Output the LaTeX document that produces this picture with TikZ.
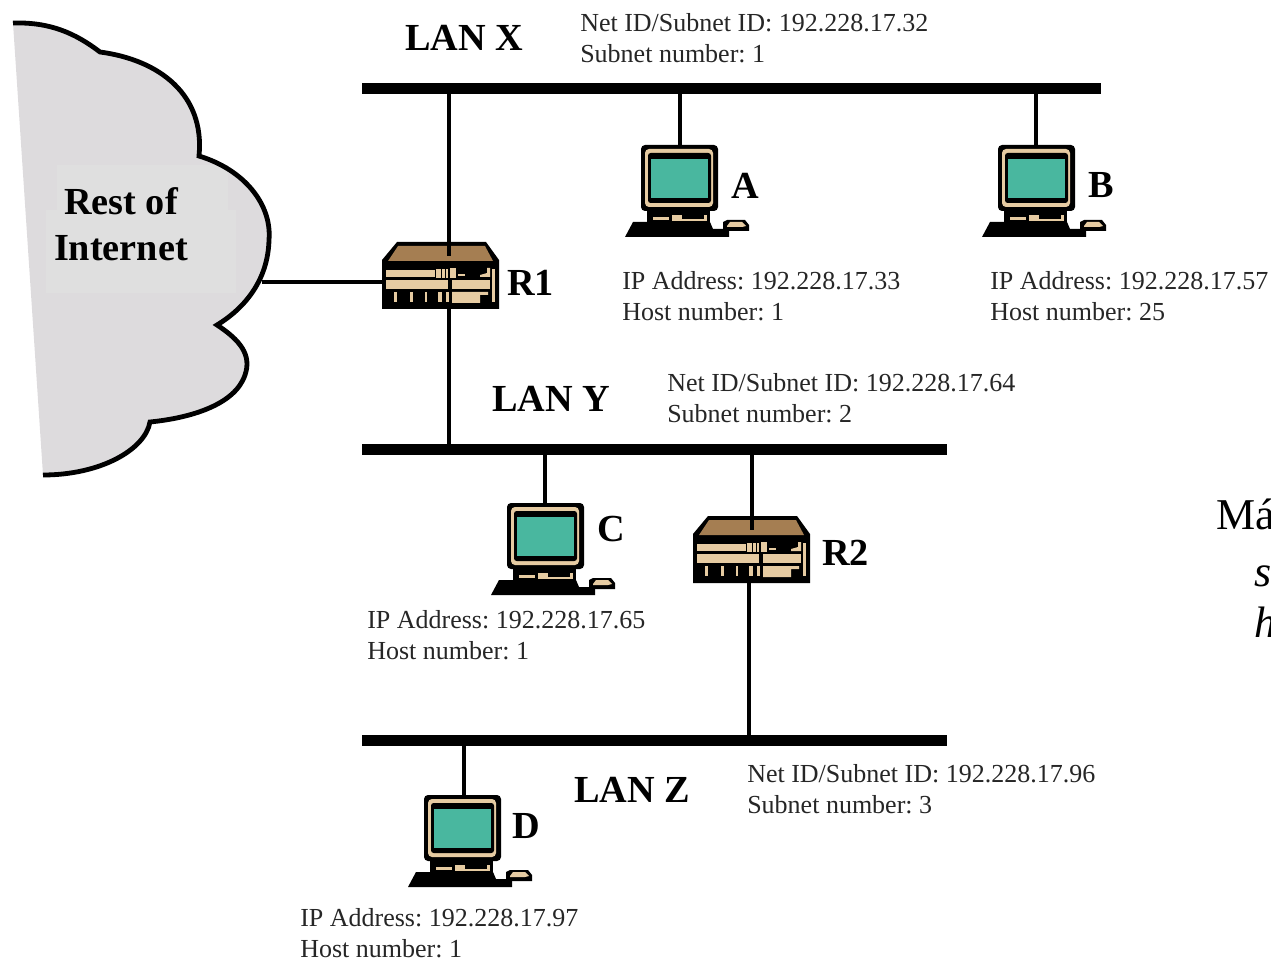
\documentclass[tikz,border=0pt]{standalone}
\usepackage{fontspec}
\setmainfont{Liberation Serif}
\frenchspacing
\definecolor{cloudgrey}{HTML}{DDDBDD}
\definecolor{cloudlight}{HTML}{DFDFDF}
\definecolor{teal1}{HTML}{49B79F}
\definecolor{tan1}{HTML}{E6CBA2}
\definecolor{brown1}{HTML}{A57E52}
\tikzset{
  x=0.75pt,y=-0.75pt,
  bus/.style={fill=black,draw=none,inner sep=0pt,minimum height=8.25pt},
  link/.style={draw=black,line width=2.6pt},
  biglabel/.style={font=\fontsize{28.7}{34}\selectfont\bfseries,anchor=base west,inner sep=0pt},
  info/.style={font=\fontsize{19.5}{23.6}\selectfont,anchor=north west,inner sep=0pt,align=left,text=black!85},
  side/.style={font=\fontsize{33}{40}\selectfont,anchor=base west,inner sep=0pt},
  computer/.pic={
    \fill[black,rounded corners=3pt] (-39,0) rectangle (38,66);
    \fill[tan1,rounded corners=3pt] (-35,4) rectangle (33,62);
    \fill[black,rounded corners=2pt] (-32,8) rectangle (31,58);
    \fill[teal1] (-29,14) rectangle (28,53);
    \fill[black] (-33,64) rectangle (30,80);
    \fill[tan1] (-27,72) rectangle (-11,75);
    \fill[tan1] (-8,70) rectangle (2,76);
    \fill[tan1] (2,74) rectangle (24,76);
    \fill[tan1] (24,70) rectangle (27,76);
    \fill[black] (-55,92) -- (-47,77) -- (30,77) -- (33,84) -- (49,84) -- (49,92) -- cycle;
    \fill[black] (43,77) -- (47,75) -- (65,75) -- (69,80) -- (69,86) -- (43,86) -- cycle;
    \fill[tan1] (47,81) -- (50,77) -- (62,77) -- (66,81) -- (62,82) -- (47,82) -- cycle;
  },
  routerbox/.pic={
    \fill[black] (-52,0) -- (37,0) -- (50,18) -- (50,67) -- (-67,67) -- (-67,18) -- cycle;
    \fill[brown1] (-61,19) -- (-51,4) -- (36,4) -- (44,19) -- cycle;
    \fill[tan1] (-63,28) rectangle (-14,35);
    \fill[tan1] (-13,27) rectangle (-8,36);
    \fill[tan1] (-7,27) rectangle (-4,36);
    \fill[tan1] (-3,27) rectangle (-1,36);
    \fill[tan1] (1,26) rectangle (7,36);
    \fill[tan1] (9,32) rectangle (16,34);
    \fill[tan1] (38,26) -- (41,26) -- (41,35) -- (31,35) -- (31,33) -- (38,31) -- cycle;
    \fill[tan1] (43,27) rectangle (46,60);
    \fill[tan1] (-63,38) rectangle (-1,47);
    \fill[tan1] (3,38) rectangle (41,47);
    \fill[tan1] (-55,50) rectangle (-52,60);
    \fill[tan1] (-39,50) rectangle (-36,60);
    \fill[tan1] (-24,50) rectangle (-22,60);
    \fill[tan1] (-11,50) rectangle (-7,60);
    \fill[tan1] (-3,50) rectangle (0,60);
    \fill[tan1] (3,50) -- (39,50) -- (39,53) -- (31,53) -- (31,61) -- (3,61) -- cycle;
  },
}
\begin{document}
\begin{tikzpicture}
\useasboundingbox (0,0) rectangle (1271,959);
% cloud
\fill[cloudgrey]
  (13,23) .. controls (50,22) and (75,33) .. (100,52)
  .. controls (160,60) and (205,95) .. (199,156)
  .. controls (245,170) and (272,205) .. (269,240)
  .. controls (268,280) and (245,308) .. (217,325)
  .. controls (240,340) and (252,355) .. (245,375)
  .. controls (235,405) and (190,418) .. (150,422)
  .. controls (145,450) and (100,475) .. (43,475) -- cycle;
\fill[cloudlight] (57,165) rectangle (228,210);
\fill[cloudlight] (46,210) rectangle (236,293);
\draw[line width=3.6pt,line join=miter,fill=none]
  (13,23) .. controls (50,22) and (75,33) .. (100,52)
  .. controls (160,60) and (205,95) .. (199,156)
  .. controls (245,170) and (272,205) .. (269,240)
  .. controls (268,280) and (245,308) .. (217,325)
  .. controls (240,340) and (252,355) .. (245,375)
  .. controls (235,405) and (190,418) .. (150,422)
  .. controls (145,450) and (100,475) .. (43,475);
\node[font=\fontsize{28.7}{35}\selectfont\bfseries,align=center,inner sep=0pt,anchor=base] (cloudname) at (121,261) {Rest of\\Internet};
\coordinate (cloudport) at (262,282);
% buses
\node[bus,minimum width=554.25pt] (lanx) at (731.5,88.5) {};
\node[bus,minimum width=438.75pt] (lany) at (654.5,449.5) {};
\node[bus,minimum width=438.75pt] (lanz) at (654.5,740.5) {};
% routers
\coordinate (R1) at (449,242);
\coordinate (R1top) at (449,256);
\coordinate (R1bottom) at (449,309);
\coordinate (R1left) at (382,282);
\coordinate (R2) at (760,516);
\coordinate (R2top) at (752,530);
\coordinate (R2bottom) at (749,583);
\pic at (R1) {routerbox};
\pic at (R2) {routerbox};
% computers
\coordinate (A) at (680,145);
\coordinate (B) at (1037,145);
\coordinate (C) at (546,503);
\coordinate (D) at (463,795);
\pic at (A) {computer};
\pic at (B) {computer};
\pic at (C) {computer};
\pic at (D) {computer};
% connectors
\draw[link] (lanx.center -| R1top) -- (R1top);
\draw[link] (R1bottom) -- (R1bottom |- lany.center);
\draw[link] (lany.center -| R2top) -- (R2top);
\draw[link] (R2bottom) -- (R2bottom |- lanz.center);
\draw[link] (cloudport) -- (R1left);
\draw[link] (A) -- (A |- lanx.center);
\draw[link] ([xshift=-0.75pt]B) -- ([xshift=-0.75pt]B |- lanx.center);
\draw[link] ([xshift=-0.75pt]C) -- ([xshift=-0.75pt]C |- lany.center);
\draw[link] ([xshift=0.75pt]D) -- ([xshift=0.75pt]D |- lanz.center);
% labels
\node[biglabel] (lxname) at (405,51) {LAN X};
\node[biglabel] (lyname) at (492,411) {LAN Y};
\node[biglabel] (lzname) at (574,802) {LAN Z};
\node[biglabel] (aname) at (731,199) {A};
\node[biglabel] (bname) at (1088,198) {B};
\node[biglabel] (cname) at (597,541) {C};
\node[biglabel] (dname) at (512,838) {D};
\node[biglabel] (r1name) at (507,296) {R1};
\node[biglabel] (r2name) at (822,565) {R2};
\node[info] (lxinfo) at (580,13) {Net ID/Subnet ID: 192.228.17.32\\Subnet number: 1};
\node[info] (lyinfo) at (667,373) {Net ID/Subnet ID: 192.228.17.64\\Subnet number: 2};
\node[info] (lzinfo) at (747,764) {Net ID/Subnet ID: 192.228.17.96\\Subnet number: 3};
\node[info] (ainfo) at (622,271) {IP Address: 192.228.17.33\\Host number: 1};
\node[info] (binfo) at (990,271) {IP Address: 192.228.17.57\\Host number: 25};
\node[info] (cinfo) at (367,610) {IP Address: 192.228.17.65\\Host number: 1};
\node[info] (dinfo) at (300,908) {IP Address: 192.228.17.97\\Host number: 1};
\node[side] (s1) at (1216,529) {Má};
\node[side] (s2) at (1254,586) {\itshape s};
\node[side] (s3) at (1254,637) {\itshape h};
\end{tikzpicture}
\end{document}
